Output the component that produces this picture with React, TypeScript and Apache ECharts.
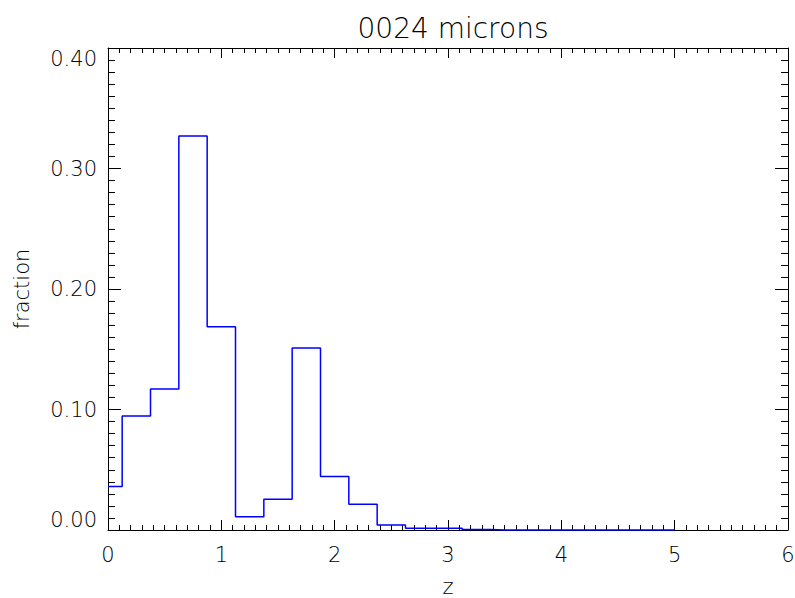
import React, { useEffect, useRef } from "react";
import * as echarts from "echarts";

const zValues = [0, 0.25, 0.5, 0.75, 1.0, 1.25, 1.5, 1.75, 2.0, 2.25, 2.5, 2.75, 3.0, 3.25, 3.5, 3.75, 4.0, 4.25, 4.5, 4.75, 5.0];
const fractionValues = [0.036, 0.0946, 0.117, 0.327, 0.1687, 0.011, 0.0255, 0.151, 0.0443, 0.0213, 0.0041, 0.0014, 0.0014, 0.0005, 0, 0, 0, 0, 0, 0, 0];
const titleText = "0024 microns";
const xName = "z";
const yName = "fraction";

const FONT = "DejaVu Sans";

export default function App() {
  const ref = useRef<HTMLDivElement>(null);
  useEffect(() => {
    if (!ref.current) return;
    const chart = echarts.init(ref.current, null, { renderer: "svg" });
    const lineStyle = { color: "#000", width: 1 };
    const labelStyle = { color: "#000", fontFamily: FONT, fontSize: 21, fontWeight: 200 as any };
    const xBase = {
      type: "value" as const,
      min: 0,
      max: 6,
      interval: 1,
      splitLine: { show: false },
      axisLine: { show: true, onZero: false, lineStyle },
      axisTick: { show: true, inside: true, length: 10, lineStyle },
      minorTick: { show: true, splitNumber: 10, length: 5, lineStyle },
    };
    const yBase = {
      type: "value" as const,
      min: 0,
      max: 0.4,
      interval: 0.1,
      splitLine: { show: false },
      axisLine: { show: true, onZero: false, lineStyle },
      axisTick: { show: true, inside: true, length: 13, lineStyle },
      minorTick: { show: true, splitNumber: 10, length: 7, lineStyle },
    };
    chart.setOption({
      animation: false,
      backgroundColor: "#fff",
      title: {
        text: titleText,
        left: 448,
        textAlign: "center",
        top: 9,
        textStyle: { color: "#000", fontFamily: FONT, fontSize: 28, fontWeight: 200 as any },
      },
      grid: { left: 108, top: 48, right: 7, bottom: 68, containLabel: false, outerBoundsMode: "none" },
      xAxis: [
        {
          ...xBase,
          position: "bottom",
          name: xName,
          nameLocation: "middle",
          nameGap: 46,
          nameTextStyle: labelStyle,
          axisLabel: { ...labelStyle, margin: 14 },
        },
        { ...xBase, position: "top", axisLabel: { show: false } },
      ],
      yAxis: [
        {
          ...yBase,
          position: "left",
          name: yName,
          nameLocation: "middle",
          nameGap: 76,
          nameTextStyle: labelStyle,
          axisLabel: {
            ...labelStyle,
            margin: 11,
            formatter: (v: number) => v.toFixed(2),
            verticalAlignMinLabel: "bottom",
            verticalAlignMaxLabel: "top",
          },
        },
        { ...yBase, position: "right", axisLabel: { show: false } },
      ],
      series: [
        {
          type: "line",
          step: "middle",
          xAxisIndex: 0,
          yAxisIndex: 0,
          data: zValues.map((z, i) => [z, fractionValues[i]]),
          showSymbol: false,
          clip: false,
          lineStyle: { color: "#0000ff", width: 1.5 },
          z: 5,
        },
      ],
    });
    return () => chart.dispose();
  }, []);
  return (
    <div
      ref={ref}
      style={{ position: "absolute", left: 0, top: 0, width: 795, height: 598, background: "#fff" }}
    />
  );
}
